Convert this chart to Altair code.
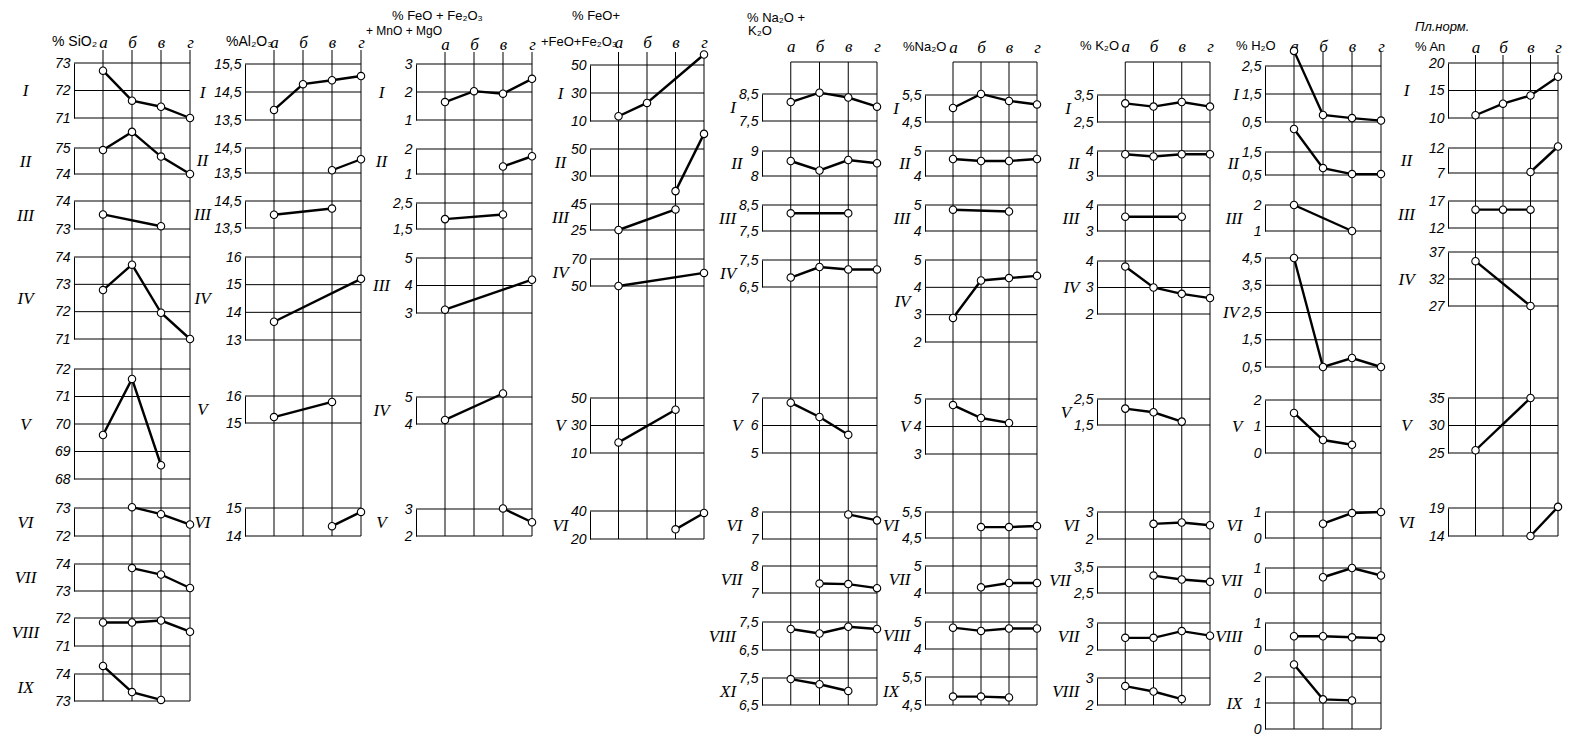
import altair as alt
import pandas as pd

N = None
LETTERS = ["а", "б", "в", "г"]

# ---------------- data (values at а, б, в, г; None = no sample) ----------------
SIO2_PANELS = ["I", "II", "III", "IV", "V", "VI", "VII", "VIII", "IX"]
SIO2_TICKS = [[73, 72, 71], [75, 74], [74, 73], [74, 73, 72, 71], [72, 71, 70, 69, 68],
              [73, 72], [74, 73], [72, 71], [74, 73]]
SIO2_VALUES = [[72.72, 71.63, 71.41, 71.0], [74.92, 75.62, 74.67, 74.0], [73.52, N, 73.1, N],
               [72.79, 73.72, 71.96, 71.0], [69.6, 71.64, 68.5, N], [N, 73.03, 72.78, 72.41],
               [N, 73.85, 73.61, 73.11], [71.84, 71.84, 71.91, 71.51], [74.3, 73.33, 73.04, N]]

AL2O3_PANELS = ["I", "II", "III", "IV", "V", "VI"]
AL2O3_TICKS = [[15.5, 14.5, 13.5], [14.5, 13.5], [14.5, 13.5], [16, 15, 14, 13], [16, 15], [15, 14]]
AL2O3_VALUES = [[13.86, 14.78, 14.92, 15.07], [N, N, 13.61, 14.05], [13.99, N, 14.22, N],
                [13.66, N, N, 15.21], [15.22, N, 15.78, N], [N, N, 14.35, 14.86]]

FEMG_PANELS = ["I", "II", "", "III", "IV", "V"]
FEMG_TICKS = [[3, 2, 1], [2, 1], [2.5, 1.5], [5, 4, 3], [5, 4], [3, 2]]
FEMG_VALUES = [[1.64, 2.03, 1.94, 2.47], [N, N, 1.3, 1.71], [1.88, N, 2.06, N],
               [3.12, N, N, 4.21], [4.15, N, 5.13, N], [N, N, 3.02, 2.51]]

FERAT_PANELS = ["I", "II", "III", "IV", "V", "VI"]
FERAT_TICKS = [[50, 30, 10], [50, 30], [45, 25], [70, 50], [50, 30, 10], [40, 20]]
FERAT_VALUES = [[13.4, 22.9, N, 57.5], [N, N, 18.8, 61.2], [25.0, N, 40.8, N],
                [50.0, N, N, 59.7], [17.7, N, 41.5, N], [N, N, 26.9, 38.6]]

ALK_PANELS = ["I", "II", "III", "IV", "V", "VI", "VII", "VIII", "XI"]
ALK_TICKS = [[8.5, 7.5], [9, 8], [8.5, 7.5], [7.5, 6.5], [7, 6, 5], [8, 7], [8, 7], [7.5, 6.5], [7.5, 6.5]]
ALK_VALUES = [[8.2, 8.55, 8.37, 8.03], [8.6, 8.22, 8.64, 8.51], [8.18, N, 8.18, N],
              [6.85, 7.24, 7.15, 7.15], [6.83, 6.31, 5.66, N], [N, N, 7.91, 7.69],
              [N, 7.35, 7.33, 7.18], [7.25, 7.09, 7.33, 7.25], [7.46, 7.27, 7.02, N]]

NA2O_PANELS = ["I", "II", "III", "IV", "V", "VI", "VII", "VIII", "IX"]
NA2O_TICKS = [[5.5, 4.5], [5, 4], [5, 4], [5, 4, 3, 2], [5, 4, 3], [5.5, 4.5], [5, 4], [5, 4], [5.5, 4.5]]
NA2O_VALUES = [[5.02, 5.54, 5.28, 5.15], [4.68, 4.6, 4.6, 4.68], [4.82, N, 4.75, N],
               [2.88, 4.25, 4.34, 4.42], [4.78, 4.31, 4.13, N], [N, 4.92, 4.92, 4.96],
               [N, 4.21, 4.37, 4.37], [4.79, 4.67, 4.76, 4.76], [4.8, 4.8, 4.77, N]]

K2O_PANELS = ["I", "II", "III", "IV", "V", "VI", "VII", "VII", "VIII"]
K2O_TICKS = [[3.5, 2.5], [4, 3], [4, 3], [4, 3, 2], [2.5, 1.5], [3, 2], [3.5, 2.5], [3, 2], [3, 2]]
K2O_VALUES = [[3.19, 3.07, 3.24, 3.07], [3.87, 3.78, 3.87, 3.87], [3.55, N, 3.55, N],
              [3.79, 3.0, 2.76, 2.6], [2.13, 1.99, 1.63, N], [N, 2.56, 2.61, 2.51],
              [N, 3.17, 3.02, 2.93], [2.45, 2.45, 2.7, 2.53], [2.7, 2.5, 2.22, N]]

H2O_PANELS = ["I", "II", "III", "IV", "V", "VI", "VII", "VIII", "IX"]
H2O_TICKS = [[2.5, 1.5, 0.5], [1.5, 0.5], [2, 1], [4.5, 3.5, 2.5, 1.5, 0.5], [2, 1, 0],
             [1, 0], [1, 0], [1, 0], [2, 1, 0]]
H2O_VALUES = [[3.04, 0.75, 0.64, 0.55], [2.5, 0.8, 0.54, 0.54], [2.0, N, 1.0, N],
              [4.5, 0.5, 0.83, 0.5], [1.51, 0.49, 0.31, N], [N, 0.55, 0.96, 1.0],
              [N, 0.63, 1.0, 0.7], [0.51, 0.51, 0.47, 0.44], [2.48, 1.14, 1.1, N]]

AN_PANELS = ["I", "II", "III", "IV", "V", "VI"]
AN_TICKS = [[20, 15, 10], [12, 7], [17, 12], [37, 32, 27], [35, 30, 25], [19, 14]]
AN_VALUES = [[10.5, 12.6, 14.1, 17.5], [N, N, 7.2, 12.3], [15.4, 15.4, 15.4, N],
             [35.3, N, 27.0, N], [25.5, N, 35.0, N], [N, N, 14.0, 19.2]]

HEADERS = [
    ["% SiO₂"], ["%Al₂O₃"], ["% FeO + Fe₂O₃", "+ MnO + MgO"], ["% FeO+", "+FeO+Fe₂O₃"],
    ["% Na₂O +", "K₂O"], ["%Na₂O"], ["% K₂O"], ["% H₂O"], ["Пл.норм.", "% An"],
]

COLUMNS = [
    (SIO2_PANELS, SIO2_TICKS, SIO2_VALUES), (AL2O3_PANELS, AL2O3_TICKS, AL2O3_VALUES),
    (FEMG_PANELS, FEMG_TICKS, FEMG_VALUES), (FERAT_PANELS, FERAT_TICKS, FERAT_VALUES),
    (ALK_PANELS, ALK_TICKS, ALK_VALUES), (NA2O_PANELS, NA2O_TICKS, NA2O_VALUES),
    (K2O_PANELS, K2O_TICKS, K2O_VALUES), (H2O_PANELS, H2O_TICKS, H2O_VALUES),
    (AN_PANELS, AN_TICKS, AN_VALUES),
]

# ---------------- layout (page pixels) ----------------
M = 8
COL_X = [(74, 190), (245, 361), (416, 532), (590, 704), (762, 877), (925, 1037),
         (1097, 1210), (1265, 1381), (1448, 1558)]
PANEL_Y = [
    [(63, 118), (148, 174), (201, 229), (257, 339), (369, 479), (508, 536), (564, 591), (618, 646), (674, 701)],
    [(64, 120), (148, 173), (201, 228), (257, 340), (396, 423), (508, 536)],
    [(64, 120), (149, 174), (203, 229), (258, 313), (397, 424), (509, 536)],
    [(65, 121), (149, 176), (204, 230), (259, 286), (398, 453), (511, 539)],
    [(94, 121), (151, 176), (205, 231), (260, 287), (398, 453), (512, 539), (566, 593), (622, 650), (678, 705)],
    [(95, 122), (151, 176), (205, 231), (260, 342), (399, 454), (512, 538), (566, 593), (622, 649), (677, 705)],
    [(95, 122), (151, 176), (205, 231), (261, 314), (399, 425), (512, 539), (567, 593), (623, 650), (678, 705)],
    [(66, 122), (152, 175), (205, 231), (258, 367), (400, 453), (512, 538), (568, 593), (623, 650), (677, 729)],
    [(63, 118), (148, 173), (201, 228), (252, 306), (398, 453), (508, 536)],
]
VLINE_Y = [(50, 701), (50, 536), (52, 536), (52, 539), (62, 705), (62, 705), (62, 705), (52, 729), (55, 536)]
TOPLINE = [False, False, False, False, True, True, True, False, False]
LETTER_Y = [42, 42, 44, 42, 46, 47, 46, 46, 47]
# roman numeral placement: ("center", x) or ("right", right-edge x) in page pixels
ROMAN_POS = [("center", 25), ("center", 202), ("center", 381), ("center", 560),
             ("right", 742), ("right", 910), ("right", 1079), ("right", 1242), ("center", 1406)]
HEADER_POS = [
    [(52, 42)], [(226, 42)], [(392, 16), (366, 31)], [(572, 16), (541, 42)],
    [(747, 18), (748, 31)], [(903, 47)], [(1080, 46)], [(1236, 46)], [(1415, 27), (1415, 47)],
]
HEADER_SIZE = [[14], [14], [13, 12], [13, 13], [13, 13], [13], [13], [13], [13, 13]]

TICK_FONT = "Liberation Sans"
ROMAN_FONT = "Liberation Serif"
TICK_SIZE = 14


def label_width(v):
    s = f"{v:g}"
    return sum(0.5 if ch in ".," else 1.0 for ch in s) * 0.556 * TICK_SIZE


letter_expr = " : ".join(
    f"datum.value == {i + 1} ? '{l}'" for i, l in enumerate(LETTERS)) + " : ''"

layers = []
for c, (panels, ticks_all, values_all) in enumerate(COLUMNS):
    fl, gx = COL_X[c]
    xs = alt.Scale(domain=[0, 4], range=[fl - M, gx - M], nice=False, zero=False)

    # vertical lines а..г through the whole column (+ optional top line)
    vt, vb = VLINE_Y[c]
    vs = alt.Scale(domain=[0, 1], range=[vt - M, vb - M], nice=False, zero=False)
    x_axis = alt.Axis(
        orient="top", values=[1, 2, 3, 4], labelExpr=letter_expr,
        offset=-(LETTER_Y[c] - M), domain=False, ticks=False, tickSize=0,
        labelPadding=0, labelBaseline="middle", labelAlign="center",
        labelFont=ROMAN_FONT, labelFontSize=17, labelFontStyle="italic",
        labelColor="black", grid=False, title=None)
    vdf = pd.DataFrame({"k": [1, 2, 3, 4], "y0": [0] * 4, "y1": [1] * 4})
    vlines = alt.Chart(vdf).mark_rule(color="black", strokeWidth=1).encode(
        x=alt.X("k:Q", scale=xs, axis=x_axis),
        y=alt.Y("y0:Q", scale=vs, axis=None),
        y2="y1:Q",
    )
    layers.append(vlines)
    if TOPLINE[c]:
        tdf = pd.DataFrame({"a": [1], "b": [4], "y": [0]})
        layers.append(alt.Chart(tdf).mark_rule(color="black", strokeWidth=1).encode(
            x=alt.X("a:Q", scale=xs, axis=None), x2="b:Q",
            y=alt.Y("y:Q", scale=vs, axis=None)))

    for p, label in enumerate(panels):
        ticks = ticks_all[p]
        top, bot = PANEL_Y[c][p]
        lo, hi = min(ticks), max(ticks)
        ys = alt.Scale(domain=[lo, hi], range=[bot - M, top - M], nice=False, zero=False)
        axis_kw = dict(
            orient="left", values=ticks, format=".6~r",
            labelExpr="replace(datum.label, '.', ',')",
            offset=-(fl - M), domain=True, domainColor="black", domainWidth=1,
            ticks=False, tickSize=0, labelPadding=4, grid=False,
            labelFont=TICK_FONT, labelFontSize=TICK_SIZE, labelFontStyle="italic",
            labelColor="black", labelBaseline="middle", labelOverlap=False,
        )
        if label:
            mode, rx = ROMAN_POS[c]
            if mode == "right":
                w = max(label_width(t) for t in ticks)
                rx = min(rx, fl - 4 - w - 3)
            axis_kw.update(title=label, titleAngle=0, titleAlign=mode,
                           titleBaseline="middle",
                           titleX=rx - fl, titleY=(top + bot) / 2 - M,
                           titleFont=ROMAN_FONT, titleFontSize=17,
                           titleFontStyle="italic", titleFontWeight="normal",
                           titleColor="black")
        else:
            axis_kw.update(title=None)
        y_axis = alt.Axis(**axis_kw)
        gdf = pd.DataFrame({"t": ticks, "x0": [0] * len(ticks), "x1": [4] * len(ticks)})
        grid = alt.Chart(gdf).mark_rule(color="black", strokeWidth=1).encode(
            x=alt.X("x0:Q", scale=xs, axis=None), x2="x1:Q",
            y=alt.Y("t:Q", scale=ys, axis=y_axis),
        )
        vals = values_all[p]
        pdf = pd.DataFrame({"i": [i + 1 for i, v in enumerate(vals) if v is not None],
                            "v": [v for v in vals if v is not None]})
        line = alt.Chart(pdf).mark_line(color="black", strokeWidth=2.4).encode(
            x=alt.X("i:Q", scale=xs, axis=None),
            y=alt.Y("v:Q", scale=ys, axis=y_axis),
        )
        pts = alt.Chart(pdf).mark_point(
            shape="circle", filled=True, fill="white", stroke="black",
            strokeWidth=1.1, size=55, opacity=1).encode(
            x=alt.X("i:Q", scale=xs, axis=None),
            y=alt.Y("v:Q", scale=ys, axis=y_axis),
        )
        layers.append(alt.layer(grid, line, pts))

    # column headers
    for text, (hx, hy), fs in zip(HEADERS[c], HEADER_POS[c], HEADER_SIZE[c]):
        hdf = pd.DataFrame({"t": [text]})
        layers.append(alt.Chart(hdf).mark_text(
            align="left", baseline="middle", font=TICK_FONT, fontSize=fs,
            fontStyle="italic" if text.startswith("Пл") else "normal",
            color="black").encode(
            x=alt.value(hx - M), y=alt.value(hy - M), text="t:N"))

chart = alt.layer(*layers).resolve_scale(x="independent", y="independent").properties(
    width=1571 - 2 * M, height=743 - 2 * M, padding=0,
    autosize=alt.AutoSizeParams(type="none"), background="white",
).configure_view(stroke="transparent")

chart.save("out.html", embed_options={"renderer": "svg", "actions": False})
